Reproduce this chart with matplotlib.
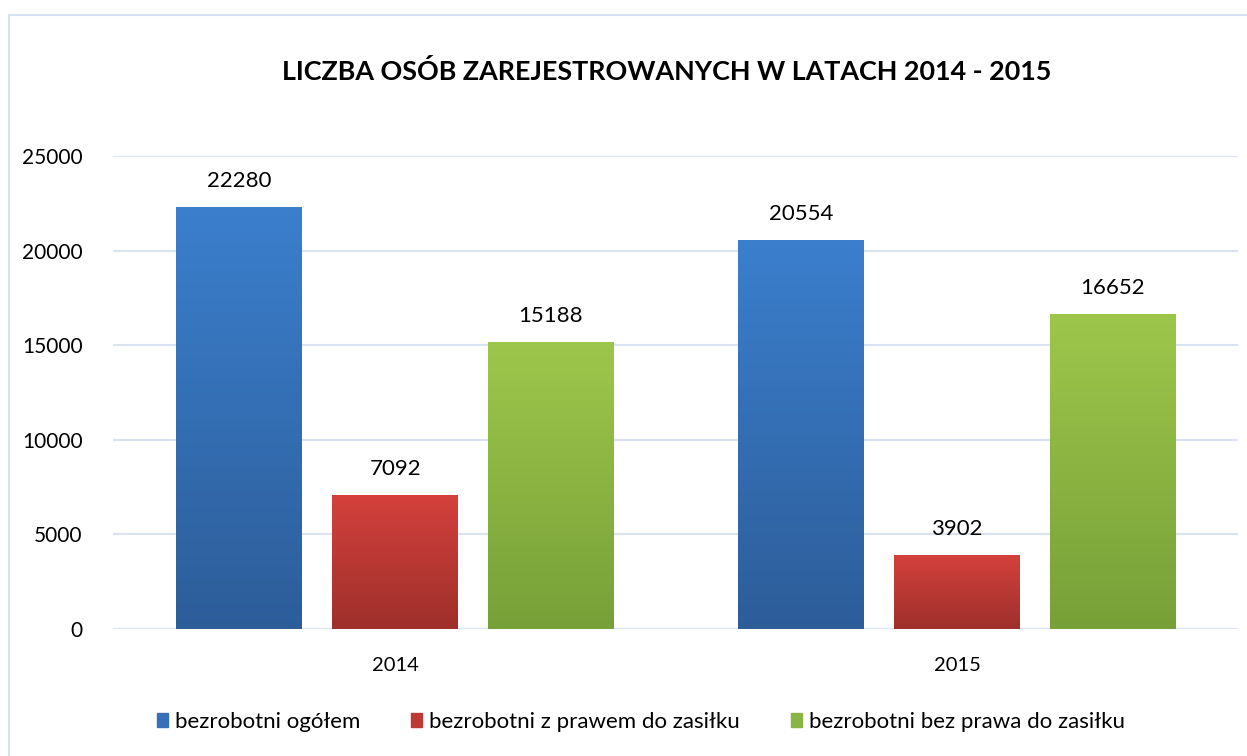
import numpy as np
import matplotlib.pyplot as plt
from matplotlib.colors import LinearSegmentedColormap
from matplotlib.patches import Rectangle

plt.rcParams['font.family'] = ['Lato', 'DejaVu Sans']

years = ["2014", "2015"]
series_names = ["bezrobotni ogółem",
                "bezrobotni z prawem do zasiłku",
                "bezrobotni bez prawa do zasiłku"]
ogolem = [22280, 20554]
z_prawem = [7092, 3902]
bez_prawa = [15188, 16652]
values = [ogolem, z_prawem, bez_prawa]

# gradient colours (top, bottom) per series
top_colors = ["#3B7FCD", "#D4413C", "#9DC74B"]
bottom_colors = ["#2D5D99", "#9E2F2B", "#77A038"]
legend_colors = ["#3570B8", "#BE3934", "#8AB443"]

title = "LICZBA OSÓB ZAREJESTROWANYCH W LATACH 2014 - 2015"

fig = plt.figure(figsize=(12.47, 7.56), dpi=100)
ax = fig.add_axes([113 / 1247, 1 - 629 / 756, (1238 - 113) / 1247, (629 - 156) / 756])

x = np.arange(len(years))
width = 0.224
pitch = 0.277

grad = np.linspace(0, 1, 256).reshape(-1, 1)
for i, vals in enumerate(values):
    cmap = LinearSegmentedColormap.from_list("g%d" % i, [bottom_colors[i], top_colors[i]])
    pos = x + (i - 1) * pitch
    bars = ax.bar(pos, vals, width, color=legend_colors[i], label=series_names[i], zorder=2)
    for b, v in zip(bars, vals):
        b.set_facecolor("none")
        b.set_edgecolor("none")
        x0 = b.get_x()
        im = ax.imshow(grad, cmap=cmap, origin="lower", aspect="auto",
                       extent=[x0, x0 + width, 0, v], zorder=2)
        im.set_clip_path(b)
        ax.text(b.get_x() + width / 2, v + 850, str(v), ha="center", va="bottom",
                fontsize=16, color="#000000")

ax.set_xlim(-0.502, 1.5)
ax.set_ylim(0, 25000)
ax.set_yticks(np.arange(0, 25001, 5000))
ax.set_xticks(x)
ax.set_xticklabels(years)
ax.grid(axis="y", color="#D9E3F2", linewidth=1.5, zorder=0)
ax.set_axisbelow(True)
for s in ax.spines.values():
    s.set_visible(False)
ax.tick_params(axis="both", length=0, colors="#000000")
ax.tick_params(axis="y", pad=22, labelsize=15)
ax.tick_params(axis="x", pad=20, labelsize=14.5)

fig.text(667 / 1247, 1 - 72 / 756, title, ha="center", va="center",
         fontsize=19.4, fontweight="bold", color="#000000")

handles = [Rectangle((0, 0), 1, 1, color=c) for c in legend_colors]
fig.legend(handles, series_names, loc="center", bbox_to_anchor=(0.514, 1 - 722 / 756),
           ncol=3, frameon=False, fontsize=16, handlelength=0.5, handleheight=0.6,
           handletextpad=0.3, columnspacing=2.3)

fig.patches.append(Rectangle((9 / 1247, -0.1), 1.2, 1 - 15 / 756 + 0.1,
                             transform=fig.transFigure, fill=False,
                             edgecolor="#D5E2F3", linewidth=1.5))

fig.savefig("out.png", dpi=100)
